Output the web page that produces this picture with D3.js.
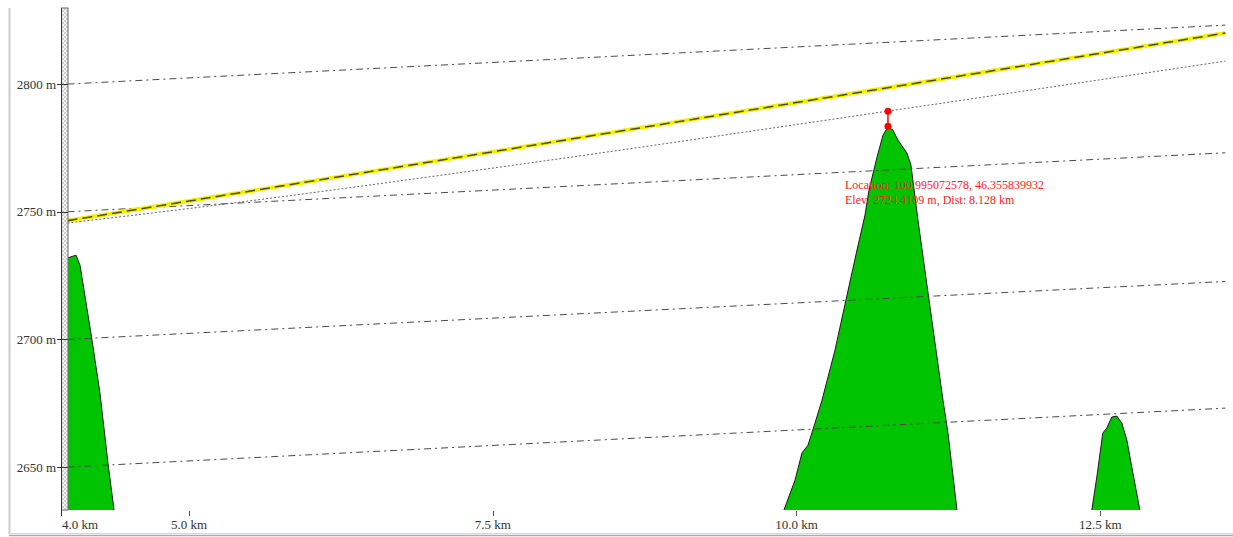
<!DOCTYPE html>
<html>
<head>
<meta charset="utf-8">
<script src="https://cdn.jsdelivr.net/npm/d3@7"></script>
<style>
  body { margin: 0; background: #fff; }
  svg { display: block; }
  text { font-family: "Liberation Serif", "Times New Roman", serif; }
</style>
</head>
<body>
<svg width="1233" height="537"></svg>
<script>
// ticks
var xTicks = [4.0, 5.0, 7.5, 10.0, 12.5]
var yTicks = [2650, 2700, 2750, 2800]

// terrain profile (km, m)
var terrainDist = [4.0, 4.07, 4.103, 4.136, 4.202, 4.267, 4.333, 4.383, 4.42, 5.0, 7.0, 9.0, 9.8,
  9.897, 9.988, 10.045, 10.095, 10.152, 10.21, 10.317, 10.407, 10.498, 10.564, 10.597, 10.663, 10.712, 10.753,
  10.794, 10.835, 10.909, 10.942, 11.0, 11.091, 11.206, 11.247, 11.321, 11.36, 12.0, 12.39,
  12.431, 12.472, 12.521, 12.554, 12.595, 12.637, 12.678, 12.719, 12.76, 12.826, 12.87, 13.53]
var terrainElev = [2731.9, 2733.0, 2729.1, 2719.3, 2699.7, 2679.0, 2651.6, 2633.2, 2620, 2600, 2590, 2600, 2622,
  2633.2, 2644.9, 2655.5, 2658.6, 2667.2, 2676.2, 2695.8, 2715.4, 2735.0, 2748.7, 2758.5, 2771.4, 2780.0, 2783.2,
  2782.0, 2778.1, 2773.0, 2768.3, 2746.7, 2715.4, 2676.2, 2663.3, 2633.2, 2618, 2600, 2618,
  2633.2, 2646.1, 2663.3, 2665.3, 2669.6, 2670.0, 2667.2, 2660.6, 2650.0, 2633.2, 2618, 2590]

// earth curvature reference lines
var curveDist = [4.0, 13.53]
var curve2800 = [2800, 2823.1]
var curve2750 = [2750, 2773.1]
var curve2700 = [2700, 2722.7]
var curve2650 = [2650, 2673.1]

// line of sight
var sightDist = [4.0, 13.53]
var sightElev = [2746.5, 2820.0]

// dotted clearance line
var clearDist = [4.0, 5.09, 7.56, 10.75, 13.53]
var clearElev = [2745.6, 2751.8, 2767.5, 2789.4, 2809.0]

// selected point
var markerDist = 10.753
var markerElev = [2783.5, 2789.4]
var markerText = ['Location: 100.995072578, 46.355839932', 'Elev: 2724.4109 m, Dist: 8.128 km']

var svg = d3.select('svg')
var plotLeft = 68, plotRight = 1226, plotTop = 8, plotBottom = 510

var x = d3.scaleLinear().domain([4.0, 13.527]).range([67.5, 1225])
var y = d3.scaleLinear().domain([2633.2, 2829.8]).range([plotBottom, plotTop])

var defs = svg.append('defs')
defs.append('clipPath').attr('id', 'clip')
  .append('rect')
    .attr('x', plotLeft).attr('y', plotTop)
    .attr('width', plotRight - plotLeft).attr('height', plotBottom - plotTop)

var pat = defs.append('pattern').attr('id', 'checks')
    .attr('width', 4).attr('height', 4).attr('patternUnits', 'userSpaceOnUse')
pat.append('rect').attr('width', 4).attr('height', 4).attr('fill', '#f2f2f2')
pat.append('rect').attr('width', 2).attr('height', 2).attr('fill', '#cfcfcf')
pat.append('rect').attr('x', 2).attr('y', 2).attr('width', 2).attr('height', 2).attr('fill', '#cfcfcf')

// window frame
svg.append('line').attr('x1', 9.5).attr('x2', 9.5).attr('y1', plotTop).attr('y2', 534)
    .attr('stroke', '#c8ccd4').attr('stroke-width', 2)
svg.append('line').attr('x1', 9).attr('x2', 1233).attr('y1', 533.5).attr('y2', 533.5)
    .attr('stroke', '#d4d6da').attr('stroke-width', 1)
svg.append('line').attr('x1', 9).attr('x2', 1233).attr('y1', 535.5).attr('y2', 535.5)
    .attr('stroke', '#a8abb2').attr('stroke-width', 1.5)

var plot = svg.append('g').attr('clip-path', 'url(#clip)')

var pts = function (ds, es) { return ds.map(function (d, i) { return [d, es[i]] }) }
var line = d3.line().x(function (d) { return x(d[0]) }).y(function (d) { return y(d[1]) })

// terrain
var terrain = pts(terrainDist, terrainElev)
plot.append('path')
    .datum(terrain)
    .attr('fill', '#00c400')
    .attr('d', d3.area().x(function (d) { return x(d[0]) }).y0(plotBottom + 2).y1(function (d) { return y(d[1]) }))
plot.append('path')
    .datum(terrain)
    .attr('fill', 'none')
    .attr('stroke', '#1a1a1a')
    .attr('stroke-width', 1)
    .attr('d', line)

// curvature lines
;[curve2800, curve2750, curve2700, curve2650].forEach(function (c) {
  plot.append('path')
      .datum(pts(curveDist, c))
      .attr('fill', 'none')
      .attr('stroke', '#4a4a4a')
      .attr('stroke-width', 1)
      .attr('stroke-dasharray', '7,4,2,4')
      .attr('d', line)
})

// clearance line
plot.append('path')
    .datum(pts(clearDist, clearElev))
    .attr('fill', 'none')
    .attr('stroke', '#666')
    .attr('stroke-width', 1)
    .attr('stroke-dasharray', '2,2')
    .attr('d', d3.line().curve(d3.curveMonotoneX).x(function (d) { return x(d[0]) }).y(function (d) { return y(d[1]) }))

// line of sight
plot.append('path')
    .datum(pts(sightDist, sightElev))
    .attr('fill', 'none')
    .attr('stroke', '#f5f000')
    .attr('stroke-width', 4)
    .attr('d', line)
plot.append('path')
    .datum(pts(sightDist, sightElev))
    .attr('fill', 'none')
    .attr('stroke', '#4a4a30')
    .attr('stroke-width', 1.5)
    .attr('stroke-dasharray', '10,5')
    .attr('d', line)

// marker
var mk = svg.append('g')
mk.append('line')
    .attr('x1', x(markerDist)).attr('x2', x(markerDist))
    .attr('y1', y(markerElev[0])).attr('y2', y(markerElev[1]))
    .attr('stroke', '#ff0000').attr('stroke-width', 1.5)
mk.selectAll('circle').data(markerElev).join('circle')
    .attr('cx', x(markerDist)).attr('cy', function (d) { return y(d) })
    .attr('r', 3.5).attr('fill', '#ff0000')
mk.selectAll('text').data(markerText).join('text')
    .attr('x', 845)
    .attr('y', function (d, i) { return 189 + i * 15 })
    .attr('fill', '#ff2020')
    .attr('font-size', 12)
    .text(function (d) { return d })

// left checkered bar
svg.append('rect')
    .attr('x', 61.5).attr('y', plotTop).attr('width', 6.5).attr('height', plotBottom - plotTop)
    .attr('fill', 'url(#checks)')
    .attr('stroke', '#6a6a6a').attr('stroke-width', 1)
svg.append('line').attr('x1', 61.5).attr('x2', 61.5).attr('y1', plotTop).attr('y2', 516)
    .attr('stroke', '#333').attr('stroke-width', 1)

// y axis
var yAxis = svg.append('g')
yAxis.selectAll('line').data(yTicks).join('line')
    .attr('x1', 57).attr('x2', 68)
    .attr('y1', function (d) { return Math.round(y(d)) + 0.5 })
    .attr('y2', function (d) { return Math.round(y(d)) + 0.5 })
    .attr('stroke', '#333')
yAxis.selectAll('text').data(yTicks).join('text')
    .attr('x', 56)
    .attr('y', function (d) { return y(d) + 4.5 })
    .attr('text-anchor', 'end')
    .attr('font-size', 13)
    .attr('fill', '#333')
    .text(function (d) { return d + ' m' })

// x axis
var xAxis = svg.append('g')
xAxis.selectAll('line').data(xTicks.slice(1)).join('line')
    .attr('x1', function (d) { return Math.round(x(d)) + 0.5 })
    .attr('x2', function (d) { return Math.round(x(d)) + 0.5 })
    .attr('y1', 511).attr('y2', 516)
    .attr('stroke', '#555')
xAxis.selectAll('text').data(xTicks).join('text')
    .attr('x', function (d, i) { return i === 0 ? 62 : x(d) })
    .attr('y', 529)
    .attr('text-anchor', function (d, i) { return i === 0 ? 'start' : 'middle' })
    .attr('font-size', 13)
    .attr('fill', '#333')
    .text(function (d) { return d.toFixed(1) + ' km' })
</script>
</body>
</html>
